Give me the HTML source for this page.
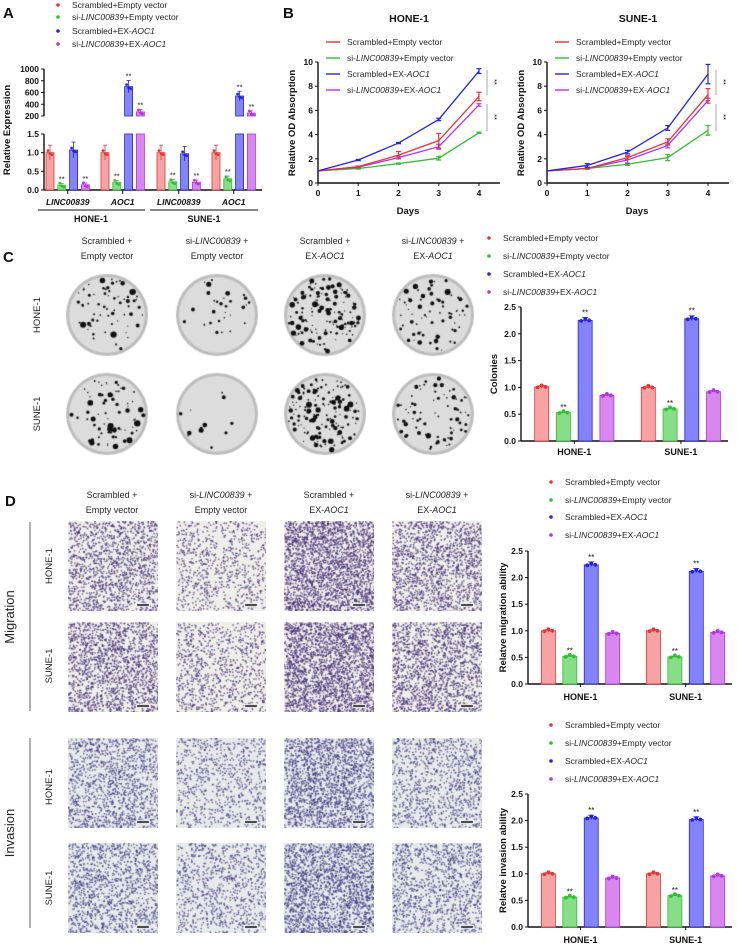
<!DOCTYPE html>
<html><head><meta charset="utf-8">
<style>
body{margin:0;background:#fff;}
#root{position:relative;width:737px;height:946px;overflow:hidden;font-family:"Liberation Sans",Arial,sans-serif;}
canvas{position:absolute;}
svg{position:absolute;left:0;top:0;}
text{font-family:"Liberation Sans",Arial,sans-serif;}
</style></head><body>
<div id="root">
<svg id="s" width="737" height="946"></svg>
</div>
<script>
// ---------- DATA ----------
const groups=["Scrambled+Empty vector","si-LINC00839+Empty vector","Scrambled+EX-AOC1","si-LINC00839+EX-AOC1"];
const fills=["#f8a3a3","#86de86","#8384fb","#d787ef"];
const strokes=["#e53434","#2fbf2f","#2424e0","#b234e2"];
// Panel A
const aCats=["LINC00839","AOC1","LINC00839","AOC1"];
const aCells=["HONE-1","SUNE-1"];
const aVals=[[1.0,0.13,1.07,0.14],[1.0,0.2,700,270],[1.0,0.22,0.97,0.21],[1.0,0.3,540,250]];
const aSig=[[0,1,0,1],[0,1,1,1],[0,1,0,1],[0,1,1,1]];
const aLowTicks=[0,0.5,1.0,1.5];
const aHighTicks=[200,400,600,800,1000];
// Panel B
const days=[0,1,2,3,4];
const bTicks=[0,2,4,6,8,10];
const bHone=[[1,1.35,2.3,3.5,7.15],[1,1.2,1.6,2.05,4.15],[1,1.9,3.3,5.25,9.25],[1,1.3,2.1,3.0,6.45]];
const bSune=[[1,1.2,2.1,3.4,7.3],[1,1.2,1.55,2.1,4.35],[1,1.45,2.55,4.55,9.0],[1,1.2,1.9,3.1,6.8]];
const bHoneErr=[[0,0.05,0.3,0.6,0.35],[0,0.05,0.05,0.15,0.05],[0,0.05,0.05,0.1,0.2],[0,0.05,0.1,0.2,0.1]];
const bSuneErr=[[0,0.05,0.15,0.25,0.5],[0,0.05,0.1,0.25,0.4],[0,0.15,0.15,0.2,0.8],[0,0.05,0.3,0.2,0.2]];
// Panel C / D
const cellCats=["HONE-1","SUNE-1"];
const barTicks=[0,0.5,1.0,1.5,2.0,2.5];
const colonies=[[1.01,0.53,2.25,0.85],[1.0,0.60,2.28,0.92]];
const migration=[[1.0,0.52,2.24,0.95],[1.0,0.51,2.12,0.97]];
const invasion=[[1.0,0.56,2.05,0.92],[1.0,0.59,2.02,0.96]];
const sigBar=[0,1,1,0];

// ---------- HELPERS ----------
const S=document.getElementById('s');const NS="http://www.w3.org/2000/svg";
function el(tag,attrs,parent){const e=document.createElementNS(NS,tag);for(const k in attrs)e.setAttribute(k,attrs[k]);(parent||S).appendChild(e);return e;}
function tx(x,y,str,o){o=o||{};const t=el('text',{x:x,y:y,'font-size':o.fs||9,'text-anchor':o.a||'middle','font-weight':o.b?'bold':'normal',fill:o.c||'#111'},o.p);
 if(o.rot)t.setAttribute('transform','rotate(-90 '+x+' '+y+')');
 if(o.html){t.innerHTML=str}else t.textContent=str;return t;}
function gname(i){return ["Scrambled+Empty vector","si-<tspan font-style='italic'>LINC00839</tspan>+Empty vector","Scrambled+EX-<tspan font-style='italic'>AOC1</tspan>","si-<tspan font-style='italic'>LINC00839</tspan>+EX-<tspan font-style='italic'>AOC1</tspan>"][i];}
function legend(x,ys,fs,line,name){const g=el('g',{});
 groups.forEach((gr,i)=>{const e=el('g',{},g);
  if(line)el('line',{x1:x,x2:x+14,y1:ys[i],y2:ys[i],stroke:strokes[i],'stroke-width':1.4},e);
  else el('circle',{cx:x,cy:ys[i],r:1.8,fill:strokes[i]},e);
  tx(x+(line?21:14),ys[i]+3,gname(i),{a:'start',fs:fs,html:true,p:e,c:'#222'});});}
function lbl(x,y,s,fs){tx(x,y,s,{fs:fs||14,b:true,a:'start'});}

// ---------- PANEL A ----------
lbl(3,18,"A",15);
legend(58,[5,17,31,44],8.5,false,'legend-a');
(function(){const X=44,y0=190,yTop=134,uBot=116,uTop=69;
 const yl=v=>y0-v/1.5*(y0-yTop);const yh=v=>uBot-(v-200)/800*(uBot-uTop);
 el('line',{x1:X,x2:X,y1:yTop,y2:y0,stroke:'#111','stroke-width':1.4});
 el('line',{x1:X,x2:X,y1:uTop,y2:uBot,stroke:'#111','stroke-width':1.4});
 el('line',{x1:X,x2:262,y1:y0,y2:y0,stroke:'#111','stroke-width':1.4});
 aLowTicks.forEach(t=>{el('line',{x1:X-3,x2:X,y1:yl(t),y2:yl(t),stroke:'#111'});tx(X-5,yl(t)+3,t.toFixed(1),{a:'end',fs:8.5,b:true});});
 aHighTicks.forEach(t=>{el('line',{x1:X-3,x2:X,y1:yh(t),y2:yh(t),stroke:'#111'});tx(X-5,yh(t)+3,t,{a:'end',fs:8.5,b:true});});
 tx(10,130,"Relative Expression",{rot:true,fs:9.5,b:true});
 const gStart=[50,105,161,216],step=11.8,bw=8;
 aVals.forEach((vals,gi)=>{const tickX=gStart[gi]+step*1.5;el('line',{x1:tickX,x2:tickX,y1:y0,y2:y0+4,stroke:'#111'});
  tx(tickX,205,aCats[gi],{fs:8.5,b:true,html:false}).setAttribute('font-style','italic');
  vals.forEach((v,i)=>{const cx=gStart[gi]+step*i;const g=el('g',{});
   let top;
   if(v<=1.5){top=yl(v);el('rect',{x:cx-bw/2,y:top,width:bw,height:y0-top,fill:fills[i],stroke:strokes[i],'stroke-width':0.8},g);}
   else{el('rect',{x:cx-bw/2,y:yTop,width:bw,height:y0-yTop,fill:fills[i],stroke:strokes[i],'stroke-width':0.8},g);
     top=yh(v);el('rect',{x:cx-bw/2,y:top,width:bw,height:uBot-top,fill:fills[i],stroke:strokes[i],'stroke-width':0.8},g);}
   const e=v<=1.5?v*0.18+0.02:v*0.15;const ye=v<=1.5?yl(v+e):yh(v+e);
   el('line',{x1:cx,x2:cx,y1:ye,y2:top+ (v<=1.5?(yl(v-e)-top):(yh(v-e)-top)),stroke:strokes[i],'stroke-width':0.8},g);
   el('line',{x1:cx-2,x2:cx+2,y1:ye,y2:ye,stroke:strokes[i],'stroke-width':0.8},g);
   [-2,0,2].forEach((d,k)=>el('circle',{cx:cx+d,cy:top+[-2,1,2][k],r:1.4,fill:strokes[i]},g));
   if(aSig[gi][i])tx(cx,ye-2,"**",{fs:7.5,p:g});});});
 el('line',{x1:38,x2:145,y1:210,y2:210,stroke:'#111'});el('line',{x1:150,x2:258,y1:210,y2:210,stroke:'#111'});
 tx(91,222,aCells[0],{fs:9,b:true});tx(204,222,aCells[1],{fs:9,b:true});
})();

// ---------- PANEL B ----------
lbl(283,18,"B",15);
function lineChart(X0,title,data,err,name){const g=el('g',{});
 const y0=183,y10=62,xEnd=X0+182;const xs=d=>X0+d*(161/4);const ys=v=>y0-v/10*(y0-y10);
 tx(X0+91,22,title,{fs:10.5,b:true,p:g});
 legend(X0+8,[42,58,74,90],8.5,true,name+'-legend');
 el('line',{x1:X0,x2:X0,y1:y10,y2:y0,stroke:'#111','stroke-width':1.4},g);
 el('line',{x1:X0,x2:xEnd,y1:y0,y2:y0,stroke:'#111','stroke-width':1.4},g);
 bTicks.forEach(t=>{el('line',{x1:X0-3,x2:X0,y1:ys(t),y2:ys(t),stroke:'#111'},g);tx(X0-5,ys(t)+3,t,{a:'end',fs:8.5,b:true,p:g});});
 days.forEach(d=>{el('line',{x1:xs(d),x2:xs(d),y1:y0,y2:y0+3,stroke:'#111'},g);tx(xs(d),y0+13,d,{fs:8.5,b:true,p:g});});
 tx(X0+90,214,"Days",{fs:9.5,b:true,p:g});
 tx(X0-23,123,"Relative OD Absorption",{rot:true,fs:9.5,b:true,p:g});
 [1,3,0,2].forEach(i=>{const s=el('polyline',{points:days.map((d,k)=>xs(d)+','+ys(data[i][k])).join(' '),fill:'none',stroke:strokes[i],'stroke-width':1.3},g);
  
  days.forEach((d,k)=>{const e=err[i][k];if(e>0){el('line',{x1:xs(d),x2:xs(d),y1:ys(data[i][k]+e),y2:ys(data[i][k]-e),stroke:strokes[i],'stroke-width':1.2},g);
   [e,-e].forEach(q=>el('line',{x1:xs(d)-2.5,x2:xs(d)+2.5,y1:ys(data[i][k]+q),y2:ys(data[i][k]+q),stroke:strokes[i],'stroke-width':1.2},g));}});});
 const sx=X0+169;el('line',{x1:sx,x2:sx,y1:70,y2:95,stroke:'#aaa'},g);el('line',{x1:sx,x2:sx,y1:104,y2:131,stroke:'#aaa'},g);
 tx(sx+5,82,"**",{fs:7.5,p:g}).setAttribute('transform','rotate(90 '+(sx+5)+' 82)');
 tx(sx+5,117,"**",{fs:7.5,p:g}).setAttribute('transform','rotate(90 '+(sx+5)+' 117)');}
lineChart(318,"HONE-1",bHone,bHoneErr,'line-chart-hone');
lineChart(547,"SUNE-1",bSune,bSuneErr,'line-chart-sune');

// ---------- BAR CHARTS C/D ----------
function barChart(X,y0,y25,xEnd,vals,yl,lx,name,labY){const g=el('g',{});
 const ys=v=>y0-v/2.5*(y0-y25);
 el('line',{x1:X,x2:X,y1:y25,y2:y0,stroke:'#111','stroke-width':1.4},g);
 el('line',{x1:X,x2:xEnd,y1:y0,y2:y0,stroke:'#111','stroke-width':1.4},g);
 barTicks.forEach(t=>{el('line',{x1:X-3,x2:X,y1:ys(t),y2:ys(t),stroke:'#111'},g);tx(X-5,ys(t)+3,t.toFixed(1),{a:'end',fs:8.5,b:true,p:g});});
 tx(lx,(y0+y25)/2,yl,{rot:true,fs:9.5,b:true,p:g});
 const span=xEnd-X;const bw=14;
 vals.forEach((vs,ci)=>{const start=X+span*(ci?0.615:0.10);const stp=span*0.105;
  const mid=start+stp*1.5;el('line',{x1:mid,x2:mid,y1:y0,y2:y0+3,stroke:'#111'},g);tx(mid,labY,cellCats[ci],{fs:9,b:true,p:g});
  vs.forEach((v,i)=>{const cx=start+stp*i;const b=el('rect',{x:cx-bw/2,y:ys(v),width:bw,height:y0-ys(v),fill:fills[i],stroke:strokes[i],'stroke-width':0.8},g);
   
   el('line',{x1:cx,x2:cx,y1:ys(v*1.025),y2:ys(v*0.985),stroke:strokes[i],'stroke-width':0.8},g);
   el('line',{x1:cx-3,x2:cx+3,y1:ys(v*1.025),y2:ys(v*1.025),stroke:strokes[i],'stroke-width':0.8},g);
   [-4,0,4].forEach((d,k)=>el('circle',{cx:cx+d,cy:ys(v)+[0.5,-1.5,0][k],r:1.9,fill:strokes[i]},g));
   if(sigBar[i])tx(cx,ys(v*1.025)-2,"**",{fs:8,p:g});});});}
legend(489,[238,256,274,292],8.5,false,'legend-c');
barChart(521,441,307,728,colonies,"Colonies",497,'colonies-chart',455);
legend(551,[482,500,517,535],8.5,false,'legend-migration');
barChart(528,684,551,732,migration,"Relatve migration ability",506,'migration-chart',700);
legend(551,[725,743,761,779],8.5,false,'legend-invasion');
barChart(528,927,794,732,invasion,"Relatve invasion ability",506,'invasion-chart',943);

// ---------- PANEL C / D texts ----------
lbl(3,262,"C",15);lbl(5,506,"D",15);
const hdrA=["Scrambled +","si-<tspan font-style='italic'>LINC00839</tspan> +","Scrambled +","si-<tspan font-style='italic'>LINC00839</tspan> +"];
const hdrB=["Empty vector","Empty vector","EX-<tspan font-style='italic'>AOC1</tspan>","EX-<tspan font-style='italic'>AOC1</tspan>"];
[107,217,325,433].forEach((x,i)=>{tx(x,244,hdrA[i],{fs:9,html:true,c:'#222'});tx(x,259,hdrB[i],{fs:9,html:true,c:'#222'});});
[112,221,329,437].forEach((x,i)=>{tx(x,498,hdrA[i],{fs:9,html:true,c:'#222'});tx(x,513,hdrB[i],{fs:9,html:true,c:'#222'});});
tx(40,315,"HONE-1",{rot:true,fs:9.5,c:'#222'});tx(40,414,"SUNE-1",{rot:true,fs:9.5,c:'#222'});
[[566,"HONE-1"],[666,"SUNE-1"],[787,"HONE-1"],[888,"SUNE-1"]].forEach(r=>tx(52,r[0],r[1],{rot:true,fs:9.5,c:'#222'}));
el('line',{x1:30,x2:30,y1:522,y2:711,stroke:'#777','stroke-width':1.2});
el('line',{x1:30,x2:30,y1:738,y2:928,stroke:'#777','stroke-width':1.2});
tx(14,617,"Migration",{rot:true,fs:13,c:'#222'});tx(14,833,"Invasion",{rot:true,fs:13,c:'#222'});

// ---------- IMAGES (canvas textures) ----------
let seed=7;function rnd(){seed=(seed*16807)%2147483647;return seed/2147483647;}
const root=document.getElementById('root');
function cv(x,y,w,h,name){const c=document.createElement('canvas');c.width=w;c.height=h;c.style.left=x+'px';c.style.top=y+'px';
 root.insertBefore(c,S);return c.getContext('2d');}
const plateX=[107,217,325,433],plateY=[315,414],plateN=[[70,30,140,70],[80,12,150,75]];
plateY.forEach((py,r)=>plateX.forEach((px,c)=>{const R=42;const ctx=cv(px-R,py-R,2*R,2*R,'colony-plate');
 ctx.beginPath();ctx.arc(R,R,R-1,0,7);ctx.fillStyle='#bdbdbd';ctx.fill();
 ctx.beginPath();ctx.arc(R,R,R-4,0,7);ctx.fillStyle='#dcdcdc';ctx.fill();
 ctx.fillStyle='#111';for(let k=0;k<plateN[r][c];k++){const a=rnd()*6.283,d=Math.sqrt(rnd())*(R-5);ctx.beginPath();ctx.arc(R+Math.cos(a)*d,R+Math.sin(a)*d,0.6+rnd()*rnd()*2.6,0,7);ctx.fill();}}));
const imgX=[68,176,284,392],imgY=[521,622,738,843],dens=[[0.55,0.3,0.95,0.6],[0.65,0.35,0.95,0.65],[0.5,0.3,0.75,0.4],[0.5,0.35,0.8,0.45]];
imgY.forEach((iy,r)=>imgX.forEach((ix,c)=>{const w=90,h=90;const ctx=cv(ix,iy,w,h,'transwell-image');
 ctx.fillStyle=r<2?'#efefe9':'#e6eae8';ctx.fillRect(0,0,w,h);
 const n=Math.floor(dens[r][c]*2600);ctx.fillStyle=r<2?'rgba(70,45,120,0.8)':'rgba(55,50,130,0.75)';
 for(let k=0;k<n;k++){ctx.fillRect(rnd()*w,rnd()*h,1.4,1.4);}
 ctx.fillStyle='#fff';ctx.fillRect(w-22,h-8,14,4);ctx.fillStyle='#333';ctx.fillRect(w-21,h-7,12,2);}));
</script>
</body></html>
